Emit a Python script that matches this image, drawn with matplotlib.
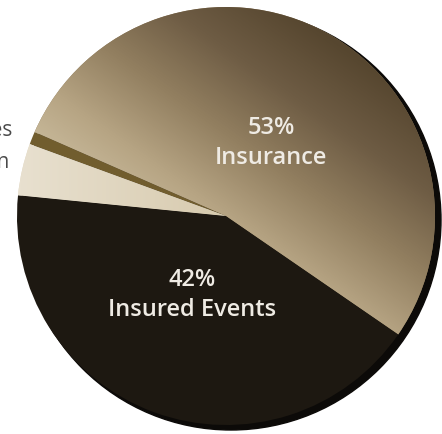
import numpy as np
import matplotlib.pyplot as plt
from matplotlib.colors import LinearSegmentedColormap
from matplotlib.patches import Circle

# share of premiums (percent)
labels = ["Insurance", "Reserves", "Administration", "Insured Events"]
shares = [53, 1, 4, 42]
shown = {"Insurance": "53%\nInsurance", "Insured Events": "42%\nInsured Events"}
side_labels = ["1% Reserves", "4% Administration"]

W, H = 442, 434
fig = plt.figure(figsize=(W / 100, H / 100), dpi=100)
ax = fig.add_axes([0, 0, 1, 1])

cx, cy, r = 226, 218, 209

# dark rim on the right side gives the disc some thickness
ax.add_patch(Circle((cx + 5, cy - 4), r + 1, color="#0c0a08", zorder=1))

colors = ["#8e7b5c", "#715d2e", "#e3d9c4", "#1d1811"]
wedges, _ = ax.pie(shares, colors=colors, startangle=-34.5, counterclock=True,
                   center=(cx, cy), radius=r, frame=True,
                   wedgeprops=dict(linewidth=0))
for w in wedges:
    w.set_zorder(2)
ax.set_xlim(0, W)
ax.set_ylim(0, H)
ax.axis("off")

# brown-to-tan shading on the big slice
yy, xx = np.mgrid[0:H, 0:W]
s = 1.0 * (yy - 15) / 340 + 0.5 * (300 - xx) / 240
s = np.clip(s, 0, 1)
cmap = LinearSegmentedColormap.from_list(
    "tan", ["#56462f", "#6e5c44", "#927f60", "#b7a584", "#cec1a3"])
img = ax.imshow(s, cmap=cmap, vmin=0, vmax=1, extent=(0, W, 0, H),
                origin="upper", zorder=3, interpolation="bilinear")
img.set_clip_path(wedges[0])

# soft shading on the beige slice
s2 = np.clip((xx - 20) / 220, 0, 1)
cmap2 = LinearSegmentedColormap.from_list("beige", ["#e8e0cf", "#d6c9ac"])
img2 = ax.imshow(s2, cmap=cmap2, vmin=0, vmax=1, extent=(0, W, 0, H),
                 origin="upper", zorder=3)
img2.set_clip_path(wedges[2])

font = ["Open Sans", "DejaVu Sans"]
ax.text(271, H - 143, shown["Insurance"], ha="center", va="center",
        color="#efebe4", fontsize=17, family=font, fontweight="semibold",
        linespacing=1.3, zorder=5)
ax.text(192, H - 295, shown["Insured Events"], ha="center", va="center",
        color="#efebe4", fontsize=17, family=font, fontweight="semibold",
        linespacing=1.3, zorder=5)

# callouts for the two thin slices, running off the left edge
ax.text(12, H - 131, side_labels[0], ha="right", va="center",
        color="#4a4a4a", fontsize=15, family=font, zorder=5)
ax.text(9, H - 162, side_labels[1], ha="right", va="center",
        color="#4a4a4a", fontsize=15, family=font, zorder=5)

fig.savefig("out.png", dpi=100)
